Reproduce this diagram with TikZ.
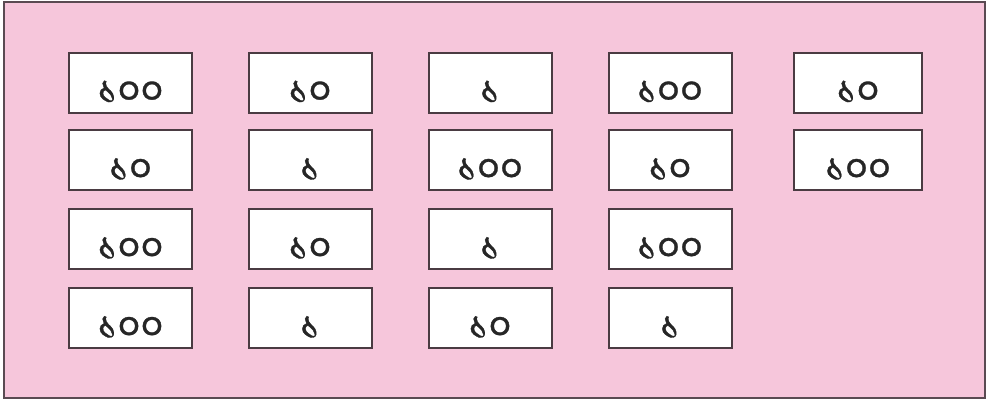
\documentclass[tikz,border=0pt]{standalone}
\usepackage{fontspec}
\newfontfamily\bengalifont[Script=Bengali, FakeBold=0.8]{Hind Siliguri}
\definecolor{panelpink}{HTML}{F6C6DB}
\definecolor{edgegray}{HTML}{5A4A52}
\definecolor{boxedge}{HTML}{4A3B42}
\tikzset{
    coin/.style={draw=boxedge, line width=1pt, fill=white, minimum width=61.5pt,
        minimum height=30pt, inner sep=0pt, font=\bengalifont\fontsize{20}{20}\selectfont,
        text=black!85, text depth=0pt, text height=21pt},
    widecoin/.style={coin, minimum width=64pt}
}

\begin{document}
\begin{tikzpicture}[x=0.5pt, y=-0.5pt]
    \useasboundingbox (0,0) rectangle (987,403);

    % Panel
    \draw[edgegray, line width=1.2pt, fill=panelpink] (4,2) rectangle (985,398);

    % Row 1
    \node[coin] (c11) at (130.5,82.5) {১০০};
    \node[coin] (c12) at (310,82.5) {১০};
    \node[coin] (c13) at (490,82.5) {১};
    \node[coin] (c14) at (670,82.5) {১০০};
    \node[widecoin] (c15) at (858,82.5) {১০};

    % Row 2
    \node[coin] (c21) at (130.5,160) {১০};
    \node[coin] (c22) at (310,160) {১};
    \node[coin] (c23) at (490,160) {১০০};
    \node[coin] (c24) at (670,160) {১০};
    \node[widecoin] (c25) at (858,160) {১০০};

    % Row 3
    \node[coin] (c31) at (130.5,239) {১০০};
    \node[coin] (c32) at (310,239) {১০};
    \node[coin] (c33) at (490,239) {১};
    \node[coin] (c34) at (670,239) {১০০};

    % Row 4
    \node[coin] (c41) at (130.5,318) {১০০};
    \node[coin] (c42) at (310,318) {১};
    \node[coin] (c43) at (490,318) {১০};
    \node[coin] (c44) at (670,318) {১};
\end{tikzpicture}
\end{document}
